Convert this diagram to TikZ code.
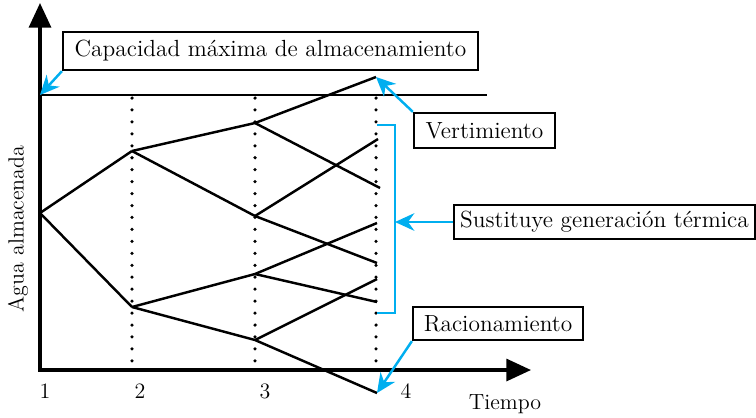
\documentclass[tikz,border=0pt]{standalone}
\usepackage{tikz,amsmath}
\usetikzlibrary{arrows.meta}
\usetikzlibrary{positioning,calc}
\definecolor{cian}{RGB}{0,174,239}
\tikzset{
  caja/.style={draw,line width=1.3pt,inner sep=0pt,font=\fontsize{13.3}{15}\selectfont},
  flecha/.style={cian,line width=1.4pt,-{Stealth[length=11pt,width=10pt]}},
  rama/.style={line width=1.4pt},
  punteado/.style={line width=2pt,line cap=round,dash pattern=on 0pt off 6.8pt},
  etiqueta/.style={font=\fontsize{12.5}{14}\selectfont},
}

\begin{document}
\begin{tikzpicture}[x=0.02cm,y=-0.02cm,line width=0.8pt]
    \useasboundingbox (0,0) rectangle (756,417);
    \coordinate (O) at (40,370);
    \coordinate (ytop) at (40,3);
    \coordinate (xfin) at (531,370);
    \coordinate (cap0) at (40,95);
    \coordinate (capfin) at (487,95);
    % nodos del arbol
    \coordinate (a) at (40,213);
    \coordinate (b1) at (132,151);
    \coordinate (b2) at (132,307);
    \coordinate (c1) at (255,123);
    \coordinate (c2) at (255,216);
    \coordinate (c3) at (255,274);
    \coordinate (c4) at (255,340);
    \coordinate (d1) at (376,77);
    \coordinate (d2) at (380,188);
    \coordinate (d3) at (378,139);
    \coordinate (d4) at (377,263);
    \coordinate (d5) at (377,223);
    \coordinate (d6) at (377,302);
    \coordinate (d7) at (377,279);
    \coordinate (d8) at (377,393);

    \foreach \x in {132,255,376}
        \draw[punteado] (\x,98) -- (\x,368);

    \draw[line width=1.2pt] (cap0)--(capfin);
    \draw[line width=1.8pt,{Triangle[length=14pt,width=12.5pt]}-{Triangle[length=14pt,width=12.5pt]}] (ytop)--(O)--(xfin);

    \foreach \i/\j in {a/b1,a/b2,b1/c1,b1/c2,b2/c3,b2/c4,c1/d1,c1/d2,c2/d3,c2/d4,c3/d5,c3/d6,c4/d7,c4/d8}
        \draw[rama] (\i)--(\j);

    \draw[cian,line width=1.4pt] (377,125)--(395,125)--(395,313)--(377,313);
    \coordinate (llave) at (395,222);

    \node[caja,minimum width=8.3cm,minimum height=0.76cm] (cap) at (270.5,51) {Capacidad máxima de almacenamiento};
    \node[caja,minimum width=2.82cm,minimum height=0.7cm] (vert) at (484.5,130.5) {Vertimiento};
    \node[caja,minimum width=6.02cm,minimum height=0.68cm] (sust) at (604.5,222) {Sustituye generación térmica};
    \node[caja,minimum width=3.4cm,minimum height=0.66cm] (rac) at (498,323.5) {Racionamiento};

    \draw[flecha] (cap.south west)--(cap0);
    \draw[flecha] (vert.north west)--(d1);
    \draw[flecha] (sust.west)--(llave);
    \draw[flecha] (rac.south west)--(d8);

    \node[etiqueta] (t1) at (45,391) {1};
    \node[etiqueta] (t2) at (140,391) {2};
    \node[etiqueta] (t3) at (265,391) {3};
    \node[etiqueta] (t4) at (406,391) {4};
    \node[etiqueta] (tiempo) at (505,404) {Tiempo};
    \node[etiqueta,rotate=90] (agua) at (18,229) {Agua almacenada};
\end{tikzpicture}
\end{document}
